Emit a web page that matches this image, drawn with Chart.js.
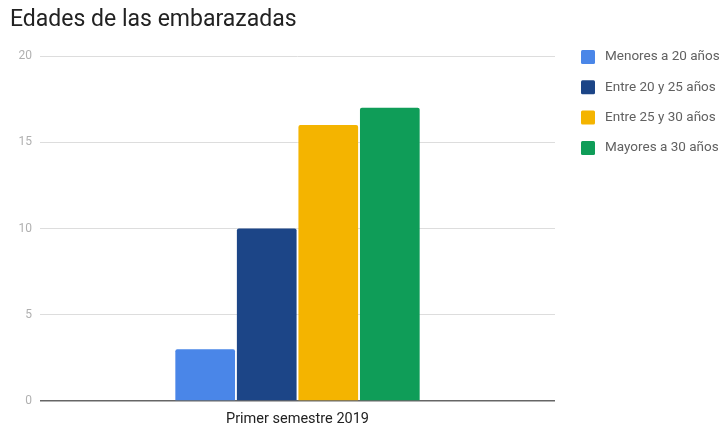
<!DOCTYPE html>
<html>
<head>
<meta charset="utf-8">
<script src="https://cdn.jsdelivr.net/npm/chart.js@4"></script>
<style>
html,body{margin:0;padding:0;background:#fff;}
#wrap{width:723px;height:425px;position:relative;}
</style>
</head>
<body>
<div id="wrap"><canvas id="c" width="723" height="425"></canvas></div>
<script>
const title = "Edades de las embarazadas";
const categories = ["Primer semestre 2019"];
const seriesNames = ["Menores a 20 años", "Entre 20 y 25 años", "Entre 25 y 30 años", "Mayores a 30 años"];
const seriesValues = [[3], [10], [16], [17]];
const seriesColors = ["#4a86e8", "#1c4587", "#f4b400", "#0f9d58"];
const yTicks = [0, 5, 10, 15, 20];

const datasets = seriesNames.map((n, i) => ({
  label: n,
  data: seriesValues[i],
  backgroundColor: seriesColors[i],
  borderWidth: 0,
  borderRadius: 2,
  borderSkipped: 'bottom',
  categoryPercentage: 0.478,
  barPercentage: 0.97
}));

// Side legend drawn from the datasets (labels + colours)
const sideLegend = {
  id: 'sideLegend',
  afterDraw(chart) {
    const ctx = chart.ctx;
    ctx.save();
    ctx.font = '13.5px Roboto';
    ctx.textBaseline = 'middle';
    ctx.textAlign = 'left';
    const x0 = chart.chartArea.right + 26;
    const y0 = chart.chartArea.top + 1;
    chart.data.datasets.forEach((ds, i) => {
      const y = y0 + i * 30.3;
      ctx.fillStyle = ds.backgroundColor;
      ctx.beginPath();
      ctx.roundRect(x0, y - 7, 14, 14, 1.5);
      ctx.fill();
      ctx.fillStyle = '#616161';
      ctx.fillText(ds.label, x0 + 24, y);
    });
    ctx.restore();
  }
};

new Chart(document.getElementById('c'), {
  type: 'bar',
  data: { labels: categories, datasets },
  plugins: [sideLegend],
  options: {
    responsive: false,
    animation: false,
    devicePixelRatio: 1,
    layout: { padding: { left: 10, right: 168, top: 0, bottom: 0 } },
    plugins: {
      title: {
        display: true, text: title, align: 'start',
        font: { family: 'Roboto', size: 23, weight: 'normal' },
        color: '#222222',
        padding: { top: 6, bottom: 22.4 }
      },
      legend: { display: false },
      tooltip: { enabled: false }
    },
    scales: {
      x: {
        afterFit: (s) => { s.height = 24; },
        grid: { display: false, drawTicks: false },
        border: { display: false },
        ticks: { color: '#222222', font: { family: 'Roboto', size: 14.5 }, padding: 10 }
      },
      y: {
        min: 0, max: 20,
        afterFit: (s) => { s.width = 30; },
        afterBuildTicks: (s) => { s.ticks = yTicks.map(v => ({ value: v })); },
        grid: {
          drawTicks: false,
          color: (ctx) => ctx.tick && ctx.tick.value === 0 ? '#666666' : '#dddddd',
          lineWidth: (ctx) => ctx.tick && ctx.tick.value === 0 ? 1.5 : 1
        },
        border: { display: false },
        ticks: { color: '#b0b0b0', font: { family: 'Roboto', size: 12 }, padding: 8 }
      }
    }
  }
});
</script>
</body>
</html>
